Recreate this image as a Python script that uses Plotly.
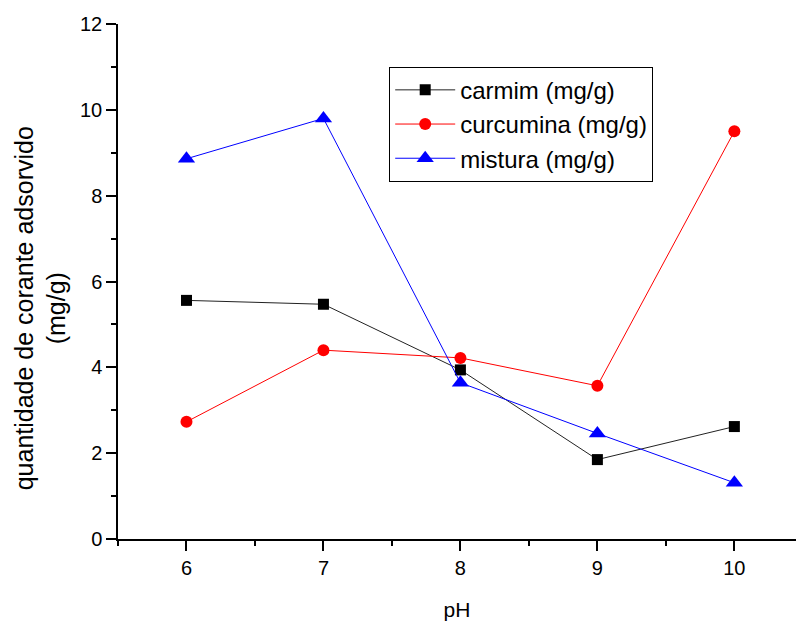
import plotly.graph_objects as go

ph = [6, 7, 8, 9, 10]
carmim = [5.56, 5.47, 3.94, 1.85, 2.62]
curcumina = [2.73, 4.40, 4.22, 3.57, 9.50]
mistura = [8.86, 9.80, 3.64, 2.46, 1.31]

fig = go.Figure()
fig.add_trace(go.Scatter(x=ph, y=carmim, mode="lines+markers", name="carmim (mg/g)",
                         line=dict(color="#222222", width=1),
                         marker=dict(symbol="square", size=11, color="black")))
fig.add_trace(go.Scatter(x=ph, y=curcumina, mode="lines+markers", name="curcumina (mg/g)",
                         line=dict(color="red", width=1),
                         marker=dict(symbol="circle", size=12, color="red")))
fig.add_trace(go.Scatter(x=ph, y=mistura, mode="lines+markers", name="mistura (mg/g)",
                         line=dict(color="blue", width=1),
                         marker=dict(symbol="triangle-up", size=15, color="blue")))

axis_font = dict(family="Liberation Sans, Arial", size=20, color="black")
fig.update_layout(
    width=796, height=621,
    margin=dict(l=118, r=0, t=24, b=79),
    plot_bgcolor="white", paper_bgcolor="white",
    font=dict(family="Liberation Sans, Arial", color="black"),
    showlegend=True,
    legend=dict(x=0.40, y=0.917, xanchor="left", yanchor="top",
                bordercolor="black", borderwidth=1, bgcolor="white",
                font=dict(family="Liberation Sans, Arial", size=24, color="black"),
                tracegroupgap=0, itemwidth=60),
    xaxis=dict(range=[5.5, 10.45], tickvals=[6, 7, 8, 9, 10], showgrid=False, zeroline=False,
               showline=True, linecolor="black", linewidth=1.5,
               ticks="outside", ticklen=10, tickwidth=1.5, tickcolor="black",
               tickfont=axis_font,
               minor=dict(dtick=0.5, tick0=5.5, ticks="outside", ticklen=5, tickwidth=1.5, tickcolor="black", showgrid=False),
               title=dict(text="pH", font=dict(family="Liberation Sans, Arial", size=21, color="black"), standoff=28)),
    yaxis=dict(range=[0, 12], tickvals=[0, 2, 4, 6, 8, 10, 12], showgrid=False, zeroline=False,
               showline=True, linecolor="black", linewidth=1.5,
               ticks="outside", ticklen=10, tickwidth=1.5, tickcolor="black",
               tickfont=axis_font,
               minor=dict(dtick=1, tick0=0, ticks="outside", ticklen=5, tickwidth=1.5, tickcolor="black", showgrid=False)),
    annotations=[dict(text="quantidade de corante adsorvido<br>(mg/g)", textangle=-90,
                      xref="paper", yref="paper", x=-0.115, y=0.448,
                      xanchor="center", yanchor="middle", showarrow=False,
                      font=dict(family="Liberation Sans, Arial", size=25, color="black"))],
)
fig.write_html("out.html")
